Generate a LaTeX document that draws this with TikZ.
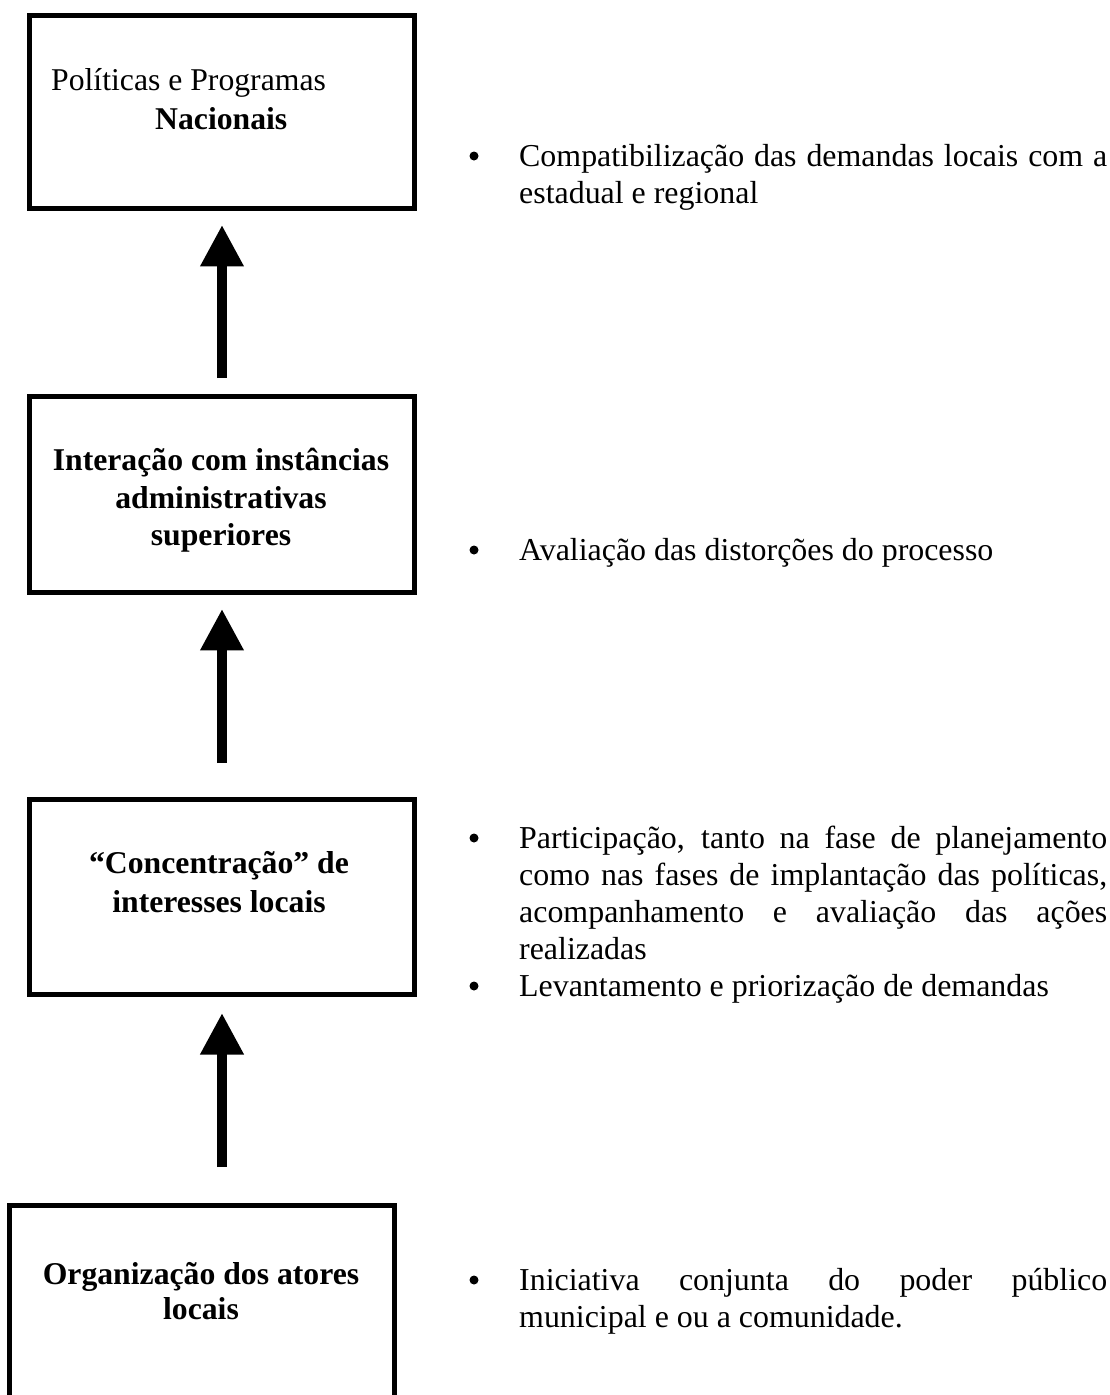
\documentclass[tikz,border=0pt]{standalone}
\usepackage{fontspec}
\setmainfont{Liberation Serif}
\usetikzlibrary{arrows.meta}
\begin{document}
\begin{tikzpicture}[x=1pt,y=-1pt,
  box/.style={draw, line width=5.3pt, inner sep=0pt, minimum width=384.6pt},
  upar/.style={line width=10pt, -{Triangle[width=41pt,length=41.5pt]}},
  btxt/.style={font=\fontsize{31.7}{38}\selectfont\bfseries, anchor=base, inner sep=0pt},
  ntxt/.style={font=\fontsize{31.7}{38}\selectfont, anchor=base west, inner sep=0pt},
  rtxt/.style={font=\fontsize{31.9}{37}\selectfont, anchor=base west, inner sep=0pt},
  dot/.style={circle, fill, inner sep=0pt, minimum size=9pt}
]
\useasboundingbox (0,0) rectangle (1110,1395);
\clip (0,0) rectangle (1110,1395);

% boxes
\node[box, minimum height=192.6pt] (b1) at (222,112) {};
\node[box, minimum height=195.6pt] (b2) at (222,494.5) {};
\node[box, minimum height=194.7pt] (b3) at (222,897) {};
\node[box, minimum height=214.3pt] (b4) at (202,1312.8) {};

% arrows
\draw[upar, shorten <=16pt, shorten >=14pt] (b2.north) -- (b1.south);
\draw[upar, shorten <=34pt, shorten >=14pt] (b3.north) -- (b2.south);
\draw[upar, shorten <=36pt, shorten >=16pt] (b4.north -| b3.south) -- (b3.south);

% box texts
\node[ntxt] (t1a) at (51,90) {Políticas e Programas};
\node[ntxt, font=\fontsize{31.7}{38}\selectfont\bfseries] (t1b) at (155,129) {Nacionais};
\node[btxt] (t2a) at (221,470) {Interação com instâncias};
\node[btxt] (t2b) at (221,508) {administrativas};
\node[btxt] (t2c) at (221,545) {superiores};
\node[btxt] (t3a) at (219,873) {“Concentração” de};
\node[btxt] (t3b) at (219,912) {interesses locais};
\node[btxt] (t4a) at (201,1284) {Organização dos atores};
\node[btxt] (t4b) at (201,1319) {locais};

% right column
\node[dot] (d1) at (474,156) {};
\node[rtxt] (r1a) at (519,166) {\makebox[588pt][s]{Compatibilização das demandas locais com a}};
\node[rtxt] (r1b) at (519,203) {estadual e regional};

\node[dot] (d2) at (474,550) {};
\node[rtxt] (r2) at (519,560) {Avaliação das distorções do processo};

\node[dot] (d3) at (474,838) {};
\node[rtxt] (r3a) at (519,848) {\makebox[588pt][s]{Participação, tanto na fase de planejamento}};
\node[rtxt] (r3b) at (519,885) {\makebox[588pt][s]{como nas fases de implantação das políticas,}};
\node[rtxt] (r3c) at (519,922) {\makebox[588pt][s]{acompanhamento e avaliação das ações}};
\node[rtxt] (r3d) at (519,959) {realizadas};
\node[dot] (d4) at (474,986) {};
\node[rtxt] (r4) at (519,996) {Levantamento e priorização de demandas};

\node[dot] (d5) at (474,1280) {};
\node[rtxt] (r5a) at (519,1290) {\makebox[588pt][s]{Iniciativa conjunta do poder público}};
\node[rtxt] (r5b) at (519,1327) {municipal e ou a comunidade.};
\end{tikzpicture}
\end{document}
